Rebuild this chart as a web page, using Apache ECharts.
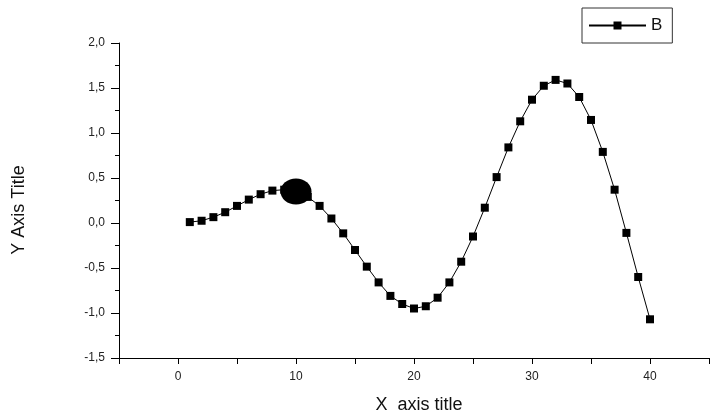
<!DOCTYPE html>
<html>
<head>
<meta charset="utf-8">
<script src="https://cdn.jsdelivr.net/npm/echarts@6/dist/echarts.min.js"></script>
<style>html,body{margin:0;padding:0;background:#fff}#c{width:712px;height:416px}</style>
</head>
<body>
<div id="c"></div>
<script>
const seriesName = 'B';
const xValues = [1,2,3,4,5,6,7,8,9,10,11,12,13,14,15,16,17,18,19,20,21,22,23,24,25,26,27,28,29,30,31,32,33,34,35,36,37,38,39,40];
const yValues = [0.01,0.025,0.065,0.12,0.19,0.26,0.32,0.36,0.37,0.35,0.29,0.19,0.05,-0.115,-0.30,-0.485,-0.66,-0.81,-0.90,-0.95,-0.925,-0.83,-0.66,-0.43,-0.15,0.17,0.51,0.84,1.13,1.37,1.525,1.59,1.55,1.40,1.145,0.79,0.37,-0.11,-0.60,-1.07];
const highlightX = [10];
const highlightY = [0.35];
const xTitle = 'X  axis title';
const yTitle = 'Y Axis Title';

const chart = echarts.init(document.getElementById('c'), null, {renderer: 'canvas'});
const font = 'Arial, "Liberation Sans", sans-serif';
chart.setOption({
  animation: false,
  backgroundColor: '#fff',
  grid: {left: 119, top: 43, height: 315, width: 601, containLabel: false},
  legend: {
    show: true, data: [seriesName], left: 582, top: 8,
    padding: [9, 10, 9, 6],
    borderColor: '#333', borderWidth: 1, borderRadius: 0,
    itemWidth: 57, itemHeight: 10, itemGap: 6,
    textStyle: {fontFamily: font, fontSize: 17, color: '#111'}
  },
  xAxis: {
    type: 'value', min: -5, max: 45, interval: 5,
    axisLine: {show: true, onZero: false, lineStyle: {color: '#000', width: 1}},
    axisTick: {show: true, inside: false, length: 6, lineStyle: {color: '#000'}},
    axisLabel: {
      margin: 13, color: '#222', fontFamily: font, fontSize: 12,
      formatter: v => (v >= 0 && v <= 40 && v % 10 === 0) ? String(v) : ''
    },
    splitLine: {show: false}
  },
  yAxis: {
    type: 'value', min: -1.5, max: 2, interval: 0.5,
    axisLine: {show: true, onZero: false, lineStyle: {color: '#000', width: 1}},
    axisTick: {show: true, inside: false, length: 8, lineStyle: {color: '#000'}},
    minorTick: {show: true, splitNumber: 2, length: 4, lineStyle: {color: '#000'}},
    axisLabel: {
      margin: 14, color: '#222', fontFamily: font, fontSize: 12,
      formatter: v => v.toFixed(1).replace('.', ',')
    },
    splitLine: {show: false}
  },
  graphic: [
    {type: 'text', rotation: Math.PI / 2, style: {text: yTitle, font: '18px ' + font, fill: '#111', textAlign: 'center', textVerticalAlign: 'middle'},
     x: 19, y: 210},
    {type: 'text', style: {text: xTitle, font: '18px ' + font, fill: '#111', textAlign: 'center', textVerticalAlign: 'middle'},
     x: 419, y: 405}
  ],
  series: [
    {
      name: seriesName, type: 'line',
      data: xValues.map((x, i) => [x, yValues[i]]),
      symbol: 'rect', symbolSize: 8, showSymbol: true,
      lineStyle: {color: '#000', width: 1},
      itemStyle: {color: '#000'},
      z: 2
    },
    {
      name: 'highlight', type: 'scatter',
      data: highlightX.map((x, i) => [x, highlightY[i]]),
      symbol: 'circle', symbolSize: [31, 26],
      itemStyle: {color: '#000', opacity: 1},
      emphasis: {disabled: true},
      z: 3
    }
  ]
});
</script>
</body>
</html>
